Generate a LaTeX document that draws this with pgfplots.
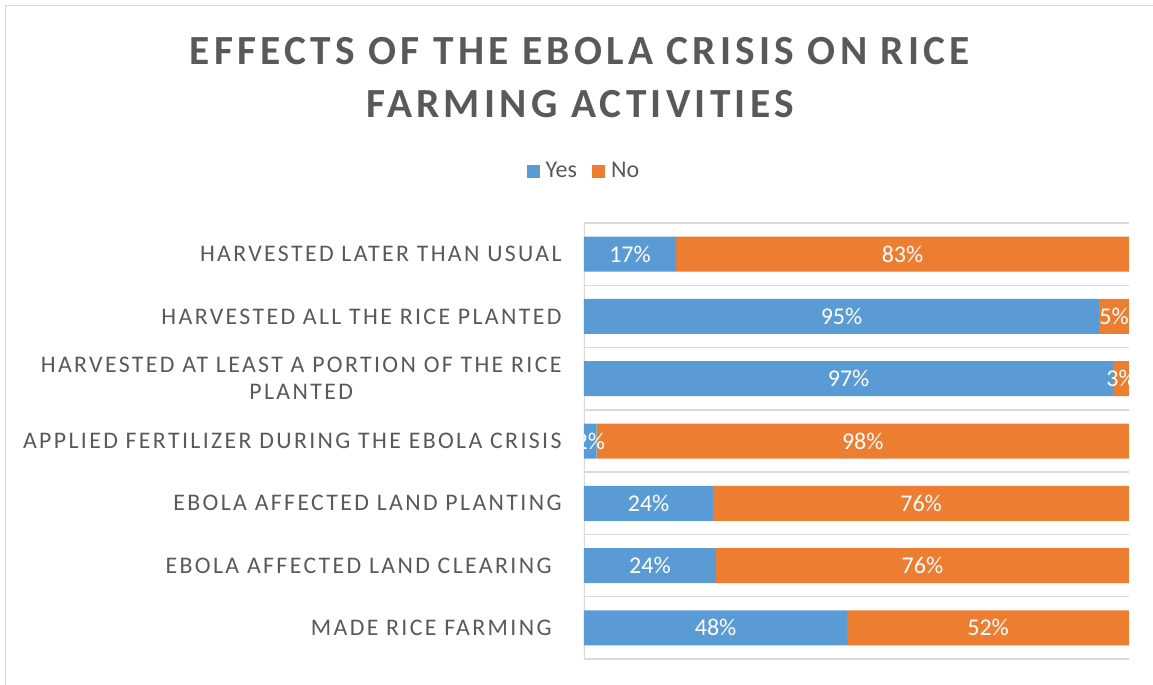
\documentclass[border=0pt]{standalone}
\usepackage{pgfplots}
\pgfplotsset{compat=1.18}
\usepackage{pgfplotstable}
\usepackage{fontspec}
\setmainfont{Carlito}
\definecolor{cblue}{HTML}{5B9BD5}
\definecolor{corange}{HTML}{ED7D31}
\definecolor{txt}{HTML}{595959}
\definecolor{gridc}{HTML}{D9D9D9}

\pgfplotstableread{
pos yes no ylab nlab
1 48.3 51.7 48 52
2 24.2 75.8 24 76
3 23.7 76.3 24 76
4 2.3 97.7 2 98
5 97.1 2.9 97 3
6 94.5 5.5 95 5
7 16.9 83.1 17 83
}\datatable

\begin{document}
\begin{tikzpicture}
\useasboundingbox (-292pt,-13pt) rectangle (284.5pt,329.5pt);
\draw[gridc, line width=0.75pt] (-289.25pt,-13pt) -- (-289.25pt,326.75pt) -- (284.5pt,326.75pt);
\node[anchor=base, text=txt, font=\fontsize{20.7}{24}\selectfont\bfseries\addfontfeature{LetterSpace=10.2}] at (-2pt,297pt) {EFFECTS OF THE EBOLA CRISIS ON RICE};
\node[anchor=base, text=txt, font=\fontsize{20.7}{24}\selectfont\bfseries\addfontfeature{LetterSpace=10.2}] at (-2pt,270.5pt) {FARMING ACTIVITIES};
\begin{axis}[
  at={(0,0)}, anchor=south west, scale only axis,
  width=272.5pt, height=218pt,
  xbar stacked, bar width=17.5pt,
  xmin=0, xmax=100, ymin=0.5, ymax=7.5,
  axis line style={draw=none},
  tick style={draw=none},
  xtick=\empty,
  ytick={1,...,7},
  yticklabels={MADE RICE FARMING\hspace*{5pt}, EBOLA AFFECTED LAND CLEARING\hspace*{5pt}, EBOLA AFFECTED LAND PLANTING, APPLIED FERTILIZER DURING THE EBOLA CRISIS, {HARVESTED AT LEAST A PORTION OF THE RICE\\PLANTED}, HARVESTED ALL THE RICE PLANTED, HARVESTED LATER THAN USUAL},
  yticklabel style={font=\fontsize{11.9}{13.5}\selectfont\addfontfeature{LetterSpace=10}, text=txt, align=center, inner sep=0pt, anchor=east, xshift=-11pt},
  minor ytick={0.5,1.5,...,7.5},
  yminorgrids, minor grid style={gridc, line width=0.75pt},
  legend columns=2,
  legend style={at={(axis description cs:0.0018,1.119)}, anchor=center, draw=none, fill=none,
    font=\fontsize{12}{14}\selectfont, text=txt, column sep=1pt,
    /tikz/every even column/.append style={column sep=5.5pt}},
  legend image code/.code={\fill[#1] (0pt,-3.25pt) rectangle (6.5pt,3.25pt);},
]
\addplot[fill=cblue, draw=none] table[x=yes, y=pos]{\datatable};
\addplot[fill=corange, draw=none] table[x=no, y=pos]{\datatable};
\legend{Yes, No}
\draw[gridc, line width=0.75pt] (rel axis cs:0,0) -- (rel axis cs:0,1);
\end{axis}
\begin{axis}[
  at={(0,0)}, anchor=south west, scale only axis,
  width=272.5pt, height=218pt,
  xmin=0, xmax=100, ymin=0.5, ymax=7.5,
  hide axis, clip=false,
  nodes near coords={\pgfplotspointmeta\%},
  point meta=explicit symbolic,
  nodes near coords style={anchor=center, text=white, font=\fontsize{12}{14}\selectfont, inner sep=0pt},
]
\addplot[draw=none, mark=none] table[x expr=\thisrow{yes}/2, y=pos, meta=ylab]{\datatable};
\addplot[draw=none, mark=none] table[x expr=\thisrow{yes}+\thisrow{no}/2, y=pos, meta=nlab]{\datatable};
\end{axis}
\end{tikzpicture}
\end{document}
